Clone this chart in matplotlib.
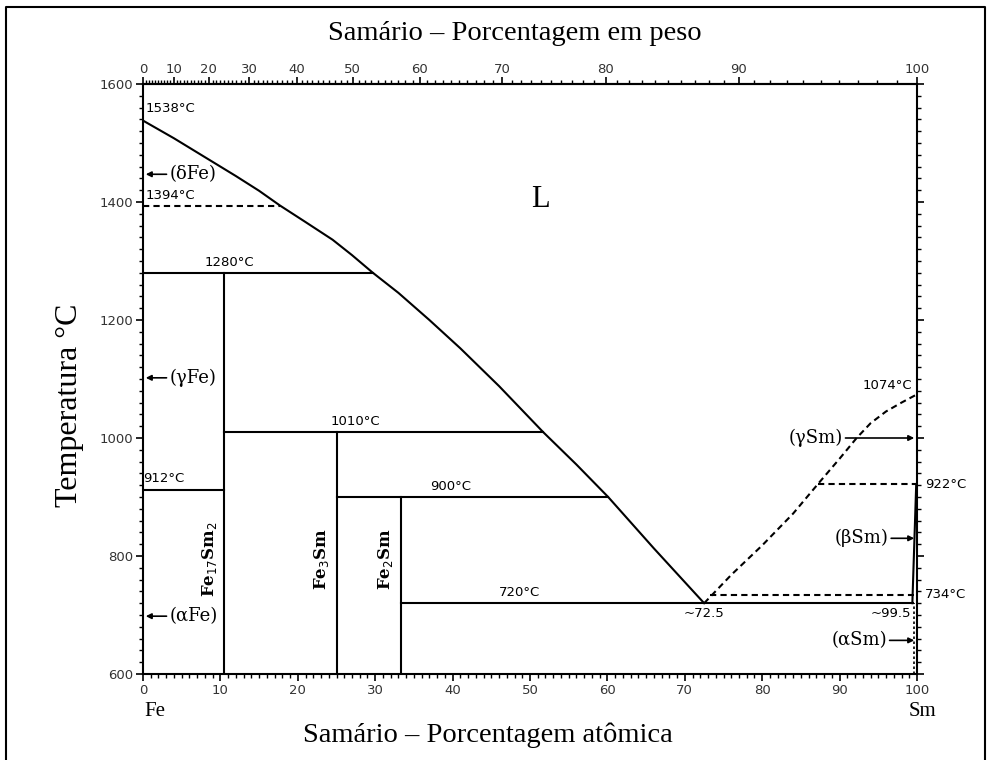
import matplotlib
matplotlib.use("Agg")
import matplotlib.pyplot as plt
from matplotlib.lines import Line2D
from matplotlib.ticker import FixedLocator, MultipleLocator

# atomic masses used for the wt% <-> at% top scale
FE_MASS = 55.845
SM_MASS = 150.36

# liquidus on the Fe side (at% Sm, deg C)
liq_x = [0, 4, 8, 12, 15, 17.7, 21, 24.5, 27, 29.7, 33, 37, 41, 46, 51.7, 56, 60.1, 66, 72.5]
liq_t = [1538, 1508, 1476, 1444, 1419, 1394, 1366, 1336, 1310, 1280, 1246, 1200, 1152, 1088, 1010, 955, 900, 813, 720]

# dashed liquidus on the Sm side
sm_liq_x = [72.5, 76, 80, 84, 87.2, 90, 92.2, 94, 96, 98, 100]
sm_liq_t = [720, 768, 818, 872, 922, 965, 1000, 1025, 1045, 1060, 1074]

# solid horizontals: (x start, x end, T)
solid_h = [(0, 29.7, 1280), (10.5, 51.7, 1010), (25, 60.1, 900),
           (33.3, 99.5, 720), (0, 10.5, 912)]
# dashed horizontals
dashed_h = [(0, 17.7, 1394), (87.2, 100, 922), (73.3, 99.6, 734)]
# compounds: (at% Sm, top T, label)
compounds = [(10.5, 1280, r"Fe$_{17}$Sm$_2$"), (25.0, 1010, r"Fe$_3$Sm"),
             (33.3, 900, r"Fe$_2$Sm")]

temp_labels = [("1538°C", 0.3, 1548, "left", "bottom"), ("1394°C", 0.3, 1400, "left", "bottom"),
               ("1280°C", 11.2, 1287, "center", "bottom"), ("912°C", 0.0, 920, "left", "bottom"),
               ("1010°C", 27.4, 1017, "center", "bottom"), ("900°C", 39.7, 907, "center", "bottom"),
               ("720°C", 48.7, 727, "center", "bottom"), ("1074°C", 99.4, 1078, "right", "bottom"),
               ("~72.5", 72.5, 714, "center", "top"), ("~99.5", 99.3, 714, "right", "top")]
right_labels = [("922°C", 922), ("734°C", 734)]

# phase arrows
fe_phases = [("(δFe)", 1447), ("(γFe)", 1102), ("(αFe)", 698)]
sm_phases = [("(γSm)", 1000, 90.4), ("(βSm)", 830, 96.3), ("(αSm)", 657, 96.1)]

wt_ticks = list(range(0, 101, 10))


def at_to_wt(a):
    return a * SM_MASS / (a * SM_MASS + (100 - a) * FE_MASS) * 100


def wt_to_at(w):
    return (w / SM_MASS) / (w / SM_MASS + (100 - w) / FE_MASS) * 100


fig = plt.figure(figsize=(9.88, 7.6), dpi=100)
ax = fig.add_axes([143 / 988, 86 / 760, 774 / 988, 590 / 760])
ax.set_xlim(0, 100)
ax.set_ylim(600, 1600)

lw = 1.5
dash = (0, (3, 2))
ax.plot(liq_x, liq_t, color="black", lw=lw)
ax.plot(sm_liq_x, sm_liq_t, color="black", lw=lw, ls=dash)
for x0, x1, t in solid_h:
    ax.plot([x0, x1], [t, t], color="black", lw=lw)
for x0, x1, t in dashed_h:
    ax.plot([x0, x1], [t, t], color="black", lw=lw, ls=dash)
for x, t, name in compounds:
    ax.plot([x, x], [600, t], color="black", lw=lw)
    ax.text(x - 0.7, 795, name, rotation=90, ha="right", va="center",
            fontsize=12, family="DejaVu Serif", fontweight="bold")

# Sm-side solvus lines
ax.plot([99.4, 99.9], [720, 922], color="black", lw=lw)
ax.plot([99.6, 99.6], [600, 720], color="black", lw=1.2, ls=(0, (1.5, 1.5)))

for txt, x, t, ha, va in temp_labels:
    ax.text(x, t, txt, ha=ha, va=va, fontsize=9.5)
for txt, t in right_labels:
    ax.text(101.0, t, txt, ha="left", va="center", fontsize=9.5, clip_on=False)

ax.text(51.3, 1405, "L", fontsize=22, family="Liberation Serif", ha="center", va="center")

arrow = dict(arrowstyle="-|>", color="black", lw=1.2, mutation_scale=8)
for txt, t in fe_phases:
    ax.annotate("", xy=(0, t), xytext=(3.4, t), arrowprops=arrow)
    ax.text(3.4, t, txt, ha="left", va="center", fontsize=13, family="DejaVu Serif")
for txt, t, x0 in sm_phases:
    ax.annotate("", xy=(100, t), xytext=(x0, t), arrowprops=arrow)
    ax.text(x0, t, txt, ha="right", va="center", fontsize=13, family="DejaVu Serif")

# axes and ticks
for s in ax.spines.values():
    s.set_linewidth(1.5)
ax.xaxis.set_major_locator(MultipleLocator(10))
ax.xaxis.set_minor_locator(MultipleLocator(1))
ax.yaxis.set_major_locator(MultipleLocator(200))
ax.yaxis.set_minor_locator(MultipleLocator(20))
ax.tick_params(which="both", direction="out", right=True, top=False,
               labelsize=9.5, labelcolor="#333333", pad=2)
ax.tick_params(which="major", length=5, width=1.2)
ax.tick_params(which="minor", length=3, width=1.0)

sec = ax.secondary_xaxis("top", functions=(at_to_wt, wt_to_at))
sec.xaxis.set_major_locator(FixedLocator(wt_ticks))
sec.xaxis.set_minor_locator(FixedLocator(list(range(0, 101))))
sec.tick_params(which="both", direction="out", labelsize=9.5, labelcolor="#333333", pad=1)
sec.tick_params(which="major", length=5, width=1.2)
sec.tick_params(which="minor", length=3, width=1.0)
sec.spines["top"].set_linewidth(1.5)

serif = "Liberation Serif"
fig.text(515 / 988, 1 - 33 / 760, "Samário – Porcentagem em peso", ha="center",
         va="center", fontsize=20.5, family=serif)
fig.text(488 / 988, 1 - 735 / 760, "Samário – Porcentagem atômica", ha="center",
         va="center", fontsize=20.5, family=serif)
fig.text(70 / 988, 1 - 405 / 760, "Temperatura °C", ha="center", va="center",
         rotation=90, fontsize=23, family=serif)
fig.text(155 / 988, 1 - 711 / 760, "Fe", ha="center", va="center", fontsize=15, family=serif)
fig.text(922 / 988, 1 - 711 / 760, "Sm", ha="center", va="center", fontsize=15, family=serif)

# outer frame (left, top, right)
fx0, fx1, fy = 6 / 988, 985 / 988, 1 - 7 / 760
fig.add_artist(Line2D([fx0, fx0, fx1, fx1], [0, fy, fy, 0], color="black", lw=1.5))

fig.savefig("out.png", dpi=100)
